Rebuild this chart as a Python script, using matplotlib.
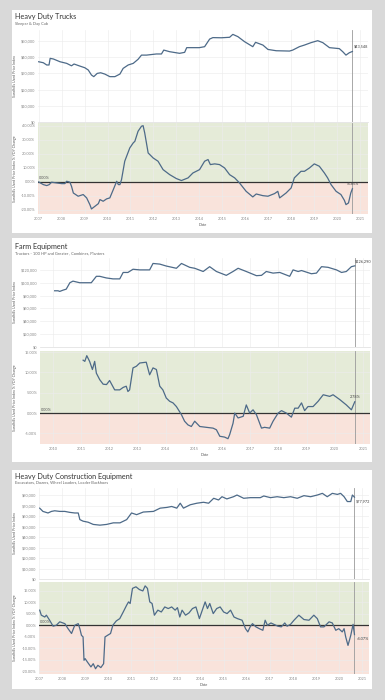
import matplotlib
matplotlib.use('Agg')
import matplotlib.pyplot as plt
from matplotlib.patches import Rectangle
from matplotlib.ticker import FuncFormatter, FixedLocator

plt.rcParams['font.family'] = ['Lato', 'DejaVu Sans']

# ---------------- DATA ----------------
# Heavy Duty Trucks - price index ($) and YoY change (%)
trucks_t = [2007.00, 2007.20, 2007.35, 2007.45, 2007.50, 2007.64, 2007.93, 2008.22, 2008.43, 2008.54,
            2008.80, 2009.01, 2009.16, 2009.30, 2009.40, 2009.55, 2009.70, 2009.88, 2010.10, 2010.32,
            2010.54, 2010.68, 2010.90, 2011.12, 2011.33, 2011.48, 2011.70, 2012.13, 2012.35, 2012.45,
            2012.71, 2013.14, 2013.36, 2013.45, 2014.00, 2014.23, 2014.45, 2014.59, 2014.96, 2015.32,
            2015.46, 2015.68, 2015.97, 2016.33, 2016.45, 2016.77, 2016.99, 2017.35, 2017.93, 2018.07,
            2018.36, 2018.58, 2018.87, 2019.16, 2019.38, 2019.67, 2020.10, 2020.25, 2020.39, 2020.54,
            2020.67]
trucks_price = [37200, 36600, 35200, 35200, 39300, 38900, 37200, 36200, 34700, 35800,
                34500, 33500, 32100, 29000, 28000, 30000, 30400, 29600, 28000, 28000,
                29600, 33100, 35200, 36200, 38700, 41300, 41300, 42000, 42000, 44400,
                43400, 42400, 43000, 45900, 45900, 46500, 51200, 52100, 52000, 52300,
                54100, 52700, 49600, 46500, 49200, 47500, 44800, 44000, 43800, 44400,
                46500, 47500, 49000, 50200, 49000, 45900, 45300, 43400, 41300, 42800,
                43548]
trucks_yoy_t = [2007.00, 2007.20, 2007.35, 2007.46, 2007.56, 2007.78, 2008.00, 2008.14, 2008.22, 2008.36,
                2008.43, 2008.51, 2008.72, 2008.94, 2009.09, 2009.23, 2009.30, 2009.45, 2009.60, 2009.67,
                2009.81, 2009.96, 2010.10, 2010.25, 2010.40, 2010.47, 2010.54, 2010.61, 2010.75, 2010.97,
                2011.12, 2011.19, 2011.33, 2011.48, 2011.55, 2011.62, 2011.77, 2011.99, 2012.20, 2012.42,
                2012.71, 2013.00, 2013.22, 2013.51, 2013.72, 2014.01, 2014.23, 2014.38, 2014.48, 2014.67,
                2014.88, 2015.10, 2015.32, 2015.54, 2015.75, 2016.04, 2016.33, 2016.48, 2016.77, 2016.99,
                2017.28, 2017.42, 2017.50, 2017.78, 2018.00, 2018.14, 2018.43, 2018.58, 2018.80, 2019.01,
                2019.23, 2019.45, 2019.59, 2019.74, 2019.96, 2020.17, 2020.32, 2020.39, 2020.50, 2020.60,
                2020.67]
trucks_yoy = [0.0, -1.9, -2.6, -1.9, -0.2, -0.7, -1.2, -1.2, 0.5, -0.2,
              -3.1, -7.9, -10.2, -9.0, -11.4, -16.2, -19.3, -17.4, -15.5, -12.6,
              -13.8, -12.1, -11.4, -5.5, 0.5, -1.9, -1.9, 1.7, 14.8, 24.3,
              27.9, 29.0, 36.2, 39.8, 40.2, 35.0, 20.7, 17.1, 14.8, 8.8,
              5.2, 2.4, 1.0, 2.9, 6.4, 8.8, 14.8, 16.0, 12.4, 12.9,
              12.4, 10.0, 5.2, 2.9, -0.7, -6.7, -10.7, -8.6, -9.8, -10.2,
              -8.3, -6.7, -11.4, -7.9, -4.3, 2.9, 7.6, 7.6, 10.0, 12.9,
              11.2, 6.4, 2.9, -1.9, -6.7, -9.0, -13.1, -16.2, -15.0, -7.9,
              -4.85]

# Farm Equipment
farm_t = [2010.06, 2010.18, 2010.24, 2010.36, 2010.47, 2010.60, 2010.71, 2010.95, 2011.18, 2011.36,
          2011.54, 2011.66, 2011.89, 2012.13, 2012.37, 2012.49, 2012.66, 2012.84, 2013.08, 2013.43,
          2013.55, 2013.79, 2014.02, 2014.38, 2014.56, 2014.85, 2015.03, 2015.33, 2015.56, 2015.80,
          2016.15, 2016.39, 2016.57, 2016.86, 2017.22, 2017.40, 2017.57, 2017.81, 2018.05, 2018.40,
          2018.52, 2018.70, 2018.82, 2019.17, 2019.35, 2019.53, 2019.76, 2020.06, 2020.24, 2020.41,
          2020.59, 2020.71]
farm_price = [87500, 87500, 86500, 88500, 90000, 100000, 102500, 100000, 100000, 100000,
              110000, 110000, 107500, 106000, 106000, 116000, 116000, 121000, 120000, 120000,
              130000, 129000, 126000, 122500, 130000, 124000, 122500, 117500, 125000, 117500,
              111500, 117500, 122500, 117500, 111000, 111500, 117500, 115000, 116000, 110000,
              120000, 117500, 119000, 114000, 115000, 125000, 124000, 120000, 116000, 117500,
              125000, 126290]
farm_yoy_t = [2011.07, 2011.13, 2011.20, 2011.30, 2011.40, 2011.48, 2011.54, 2011.66, 2011.78, 2011.90,
              2012.01, 2012.19, 2012.37, 2012.49, 2012.60, 2012.66, 2012.72, 2012.84, 2012.96, 2013.08,
              2013.31, 2013.43, 2013.55, 2013.67, 2013.79, 2013.90, 2014.02, 2014.14, 2014.26, 2014.38,
              2014.56, 2014.67, 2014.79, 2014.91, 2015.03, 2015.21, 2015.44, 2015.68, 2015.80, 2015.92,
              2016.09, 2016.21, 2016.27, 2016.39, 2016.45, 2016.57, 2016.75, 2016.86, 2016.98, 2017.10,
              2017.22, 2017.40, 2017.51, 2017.69, 2017.81, 2017.99, 2018.11, 2018.28, 2018.46, 2018.58,
              2018.70, 2018.82, 2018.93, 2019.05, 2019.23, 2019.41, 2019.59, 2019.82, 2019.94, 2020.18,
              2020.41, 2020.59, 2020.71]
farm_yoy = [13.0, 12.7, 14.1, 12.7, 10.7, 12.7, 9.8, 8.2, 7.1, 7.0,
            8.0, 5.7, 5.7, 6.3, 6.6, 5.3, 5.7, 11.1, 11.5, 12.3,
            12.5, 9.4, 11.1, 10.7, 6.6, 5.7, 3.7, 2.9, 2.5, 1.6,
            -0.4, -2.0, -2.9, -3.3, -2.0, -3.3, -3.5, -3.7, -4.1, -5.7,
            -5.9, -6.3, -5.3, -2.5, 0.0, -1.2, -0.8, 2.0, 0.0, 0.8,
            -0.4, -3.7, -3.5, -3.7, -2.0, 0.0, 0.6, 0.0, -1.0, 1.2,
            1.2, 2.5, 0.6, 1.6, 1.6, 2.9, 4.5, 4.1, 4.5, 3.3,
            2.0, 0.8, 2.78]

# Heavy Duty Construction Equipment
cons_t = [2007.03, 2007.17, 2007.39, 2007.54, 2007.68, 2007.90, 2008.12, 2008.33, 2008.55, 2008.70,
          2008.77, 2008.91, 2009.13, 2009.35, 2009.64, 2009.93, 2010.22, 2010.51, 2010.80, 2011.01,
          2011.23, 2011.52, 2011.96, 2012.25, 2012.54, 2012.75, 2012.97, 2013.12, 2013.26, 2013.55,
          2013.84, 2014.13, 2014.35, 2014.57, 2014.78, 2014.93, 2015.14, 2015.43, 2015.58, 2015.87,
          2016.16, 2016.59, 2016.74, 2017.03, 2017.32, 2017.61, 2017.90, 2018.19, 2018.48, 2018.77,
          2019.06, 2019.28, 2019.49, 2019.71, 2019.93, 2020.07, 2020.22, 2020.36, 2020.51, 2020.58,
          2020.67]
cons_price = [67500, 64400, 62900, 64400, 65000, 64400, 64400, 63500, 62900, 62900,
              56600, 55100, 54100, 52000, 51300, 52000, 53500, 53500, 56600, 62900,
              61300, 63800, 64400, 67500, 68200, 69100, 67500, 72200, 67500, 70700,
              72200, 73100, 72200, 76900, 75300, 78400, 76300, 78400, 80000, 76900,
              77500, 77500, 79100, 77500, 78400, 77500, 78400, 76900, 79400, 78400,
              80000, 81600, 78400, 81600, 80600, 81600, 78400, 73800, 73800, 80000,
              77972]
cons_yoy_t = [2007.03, 2007.10, 2007.25, 2007.32, 2007.46, 2007.61, 2007.75, 2007.90, 2008.12, 2008.26,
              2008.41, 2008.55, 2008.70, 2008.77, 2008.84, 2008.91, 2008.95, 2009.00, 2009.10, 2009.25,
              2009.35, 2009.45, 2009.55, 2009.68, 2009.80, 2009.86, 2009.97, 2010.10, 2010.20, 2010.35,
              2010.50, 2010.65, 2010.80, 2010.88, 2010.95, 2011.05, 2011.20, 2011.35, 2011.50, 2011.60,
              2011.70, 2011.80, 2011.90, 2012.00, 2012.15, 2012.30, 2012.45, 2012.60, 2012.75, 2012.90,
              2013.00, 2013.10, 2013.20, 2013.35, 2013.50, 2013.65, 2013.80, 2013.95, 2014.10, 2014.20,
              2014.30, 2014.40, 2014.55, 2014.70, 2014.85, 2015.00, 2015.15, 2015.30, 2015.45, 2015.60,
              2015.80, 2015.95, 2016.05, 2016.15, 2016.25, 2016.40, 2016.55, 2016.70, 2016.80, 2016.90,
              2017.05, 2017.20, 2017.35, 2017.50, 2017.65, 2017.75, 2017.90, 2018.05, 2018.26, 2018.48,
              2018.70, 2018.91, 2019.06, 2019.20, 2019.35, 2019.57, 2019.71, 2019.86, 2019.99, 2020.14,
              2020.22, 2020.29, 2020.39, 2020.51, 2020.61, 2020.67]
cons_yoy = [6.6, 4.4, 3.6, 4.4, 2.2, -0.4, 0.0, 1.5, 0.7, -1.5,
            -3.6, 0.0, 0.7, -1.5, -4.4, -5.1, -15.3, -14.6, -16.1, -18.2,
            -16.8, -19.0, -17.5, -18.5, -16.8, -5.1, -4.4, -3.6, 0.0, 1.9,
            2.9, 5.8, 8.8, 10.2, 9.5, 16.1, 16.8, 15.6, 15.0, 17.2,
            16.1, 10.2, 9.5, 4.4, 6.6, 5.8, 8.0, 7.3, 8.0, 6.6,
            7.7, 3.6, 6.6, 4.4, 5.4, 7.3, 8.0, 2.9, 7.3, 10.2,
            7.3, 9.5, 5.1, 7.3, 8.0, 5.8, 5.1, 6.6, 3.6, 2.9,
            2.2, -1.5, -2.9, -0.7, 0.7, -0.7, -1.5, -2.2, 2.2, 0.0,
            1.0, 0.3, -0.4, -0.7, 1.0, -0.4, 0.4, 2.2, 4.4, 2.5,
            2.2, 4.4, 2.9, -0.7, -0.7, 1.5, 1.0, -2.2, -1.5, -2.9,
            -1.5, -5.1, -8.8, -4.4, 0.4, -4.07]

titles = ["Heavy Duty Trucks", "Farm Equipment", "Heavy Duty Construction Equipment"]
subtitles = ["Sleeper & Day Cab", "Tractors - 100 HP and Greater , Combines, Planters",
             "Excavators, Dozers, Wheel Loaders, Loader Backhoes"]
ylabel_top = "Sandhills Used Price Index"
ylabel_bottom = "Sandhills Used Price Index % YOY Change"
years_a = list(range(2007, 2022))
years_b = list(range(2010, 2022))
price_ticks = [list(range(0, 50001, 10000)), list(range(0, 120001, 20000)), list(range(0, 80001, 10000))]
yoy_ticks = [list(range(-20, 41, 10)), list(range(-5, 16, 5)), list(range(-20, 16, 5))]

# ---------------- STYLE / LAYOUT ----------------
W, H = 385, 700
LINE = '#4d6a88'
GREEN = '#e5ebd8'
PINK = '#f9e3db'
GRID = '#ececec'
TICKC = '#8a8a8a'

fig = plt.figure(figsize=(W / 100, H / 100), dpi=100)
fig.patch.set_facecolor('#d9d9d9')


def axes_px(x0, y0, x1, y1):
    return fig.add_axes([x0 / W, 1 - y1 / H, (x1 - x0) / W, (y1 - y0) / H])


def card_px(x0, y0, x1, y1):
    fig.add_artist(Rectangle((x0 / W, 1 - y1 / H), (x1 - x0) / W, (y1 - y0) / H,
                             transform=fig.transFigure, facecolor='white',
                             edgecolor='none', zorder=-5))


def text_px(x, y, s, **kw):
    fig.text(x / W, 1 - y / H, s, **kw)


def style(ax, xlim, years, ylim, yt, fmt, show_x):
    ax.set_xlim(*xlim)
    ax.set_ylim(*ylim)
    ax.xaxis.set_major_locator(FixedLocator(years))
    ax.yaxis.set_major_locator(FixedLocator(yt))
    ax.yaxis.set_major_formatter(FuncFormatter(fmt))
    ax.xaxis.set_major_formatter(FuncFormatter(lambda v, p: f"{int(round(v))}"))
    ax.tick_params(length=0, labelsize=2.8, labelcolor=TICKC, pad=2)
    if not show_x:
        ax.tick_params(axis='x', labelbottom=False)
    ax.set_axisbelow(True)
    ax.grid(True, color=GRID, lw=0.45)
    for s in ax.spines.values():
        s.set_visible(False)


money = lambda v, p: f"${v:,.0f}"
pct = lambda v, p: f"{v:.2f}%"

cfgs = [
    dict(card=(12, 10, 372, 233), top=(38, 30, 368, 122), bot=(38, 123, 368, 214),
         xlim=(2006.97, 2021.35), years=years_a, ptop=56800, ylim_b=(-22.9, 42.1),
         title_y=17, sub_y=24, date_y=225,
         t=trucks_t, p=trucks_price, yt=trucks_yoy_t, y=trucks_yoy,
         plabel=dict(dx=1, dy=-3, ha='left', va='bottom'),
         ylabel=dict(dx=0, dy=-2.5, ha='center', va='bottom')),
    dict(card=(12, 238, 372, 462), top=(40, 258, 370, 347), bot=(40, 351, 370, 444),
         xlim=(2009.54, 2021.25), years=years_b, ptop=138500, ylim_b=(-7.6, 15.25),
         title_y=246, sub_y=253, date_y=455,
         t=farm_t, p=farm_price, yt=farm_yoy_t, y=farm_yoy,
         plabel=dict(dx=0, dy=-2, ha='left', va='bottom'),
         ylabel=dict(dx=0, dy=-2.5, ha='center', va='bottom')),
    dict(card=(12, 470, 372, 689), top=(39, 488, 369, 579), bot=(39, 582, 369, 674),
         xlim=(2007.0, 2021.3), years=years_a, ptop=86700, ylim_b=(-21.3, 18.9),
         title_y=476, sub_y=482, date_y=685,
         t=cons_t, p=cons_price, yt=cons_yoy_t, y=cons_yoy,
         plabel=dict(dx=1, dy=2, ha='left', va='top'),
         ylabel=dict(dx=2, dy=2, ha='left', va='top')),
]

for i, c in enumerate(cfgs):
    card_px(*c['card'])
    text_px(c['card'][0] + 3, c['title_y'], titles[i], fontsize=5.2, color='#333333', va='center')
    text_px(c['card'][0] + 3, c['sub_y'], subtitles[i], fontsize=2.9, color='#666666', va='center')

    axt = axes_px(*c['top'])
    style(axt, c['xlim'], c['years'], (0, c['ptop']), price_ticks[i], money, False)
    axt.plot(c['t'], c['p'], color=LINE, lw=0.9, zorder=3)
    axt.axvline(c['t'][-1], color='#9a9a9a', lw=0.6, zorder=2)
    axt.annotate(f"${c['p'][-1]:,.0f}", (c['t'][-1], c['p'][-1]),
                 xytext=(c['plabel']['dx'], -c['plabel']['dy']), textcoords='offset pixels',
                 ha=c['plabel']['ha'], va=c['plabel']['va'], fontsize=2.8, color='#444444', zorder=4)
    axt.set_ylabel(ylabel_top, fontsize=2.6, color='#555555')
    axt.yaxis.set_label_coords((17 - c['top'][0]) / (c['top'][2] - c['top'][0]), 0.5)
    axt.plot([0, 1], [0, 0], transform=axt.transAxes, color='#dddddd', lw=0.5, clip_on=False)

    axb = axes_px(*c['bot'])
    style(axb, c['xlim'], c['years'], c['ylim_b'], yoy_ticks[i], pct, True)
    axb.axhspan(0, c['ylim_b'][1], color=GREEN, zorder=0.2, lw=0)
    axb.axhspan(c['ylim_b'][0], 0, color=PINK, zorder=0.2, lw=0)
    axb.axhline(0, color='#333333', lw=0.9, zorder=2.5)
    axb.plot(c['yt'], c['y'], color=LINE, lw=0.9, zorder=3)
    axb.axvline(c['yt'][-1], color='#9a9a9a', lw=0.6, zorder=2)
    axb.annotate("0.00%", (c['xlim'][0], 0), xytext=(1, 1.5), textcoords='offset pixels',
                 ha='left', va='bottom', fontsize=2.8, color='#555555', zorder=4)
    axb.annotate(f"{c['y'][-1]:.2f}%", (c['yt'][-1], c['y'][-1]),
                 xytext=(c['ylabel']['dx'], -c['ylabel']['dy']), textcoords='offset pixels',
                 ha=c['ylabel']['ha'], va=c['ylabel']['va'], fontsize=2.8, color='#444444', zorder=4)
    axb.set_ylabel(ylabel_bottom, fontsize=2.6, color='#555555')
    axb.yaxis.set_label_coords((17 - c['bot'][0]) / (c['bot'][2] - c['bot'][0]), 0.5)
    cx = (c['bot'][0] + c['bot'][2]) / 2
    text_px(cx, c['date_y'], "Date", fontsize=2.8, color='#555555', ha='center', va='center')

fig.savefig('out.png', dpi=100, facecolor=fig.get_facecolor())
